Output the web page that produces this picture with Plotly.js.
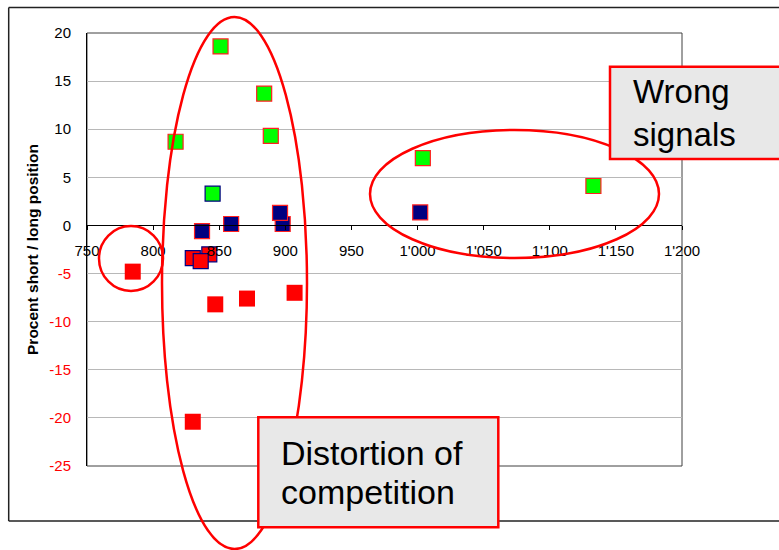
<!DOCTYPE html>
<html>
<head>
<meta charset="utf-8">
<script src="https://cdn.plot.ly/plotly-3.0.1.min.js"></script>
<style>html,body{margin:0;padding:0;background:#fff;}</style>
</head>
<body>
<div id="chart" style="width:779px;height:550px;"></div>
<script>
// ---- data ----
var greenX = [817, 851, 884, 889, 845, 1004, 1133];
var greenY = [8.7, 18.6, 13.7, 9.3, 3.3, 7.0, 4.1];
var greenEdge = ['red', 'red', 'red', 'red', 'navy', 'red', 'red'];

var navyX = [837, 859, 898, 896, 1002];
var navyY = [-0.6, 0.15, 0.15, 1.3, 1.35];

var redNavyX = [842.5, 830, 836];
var redNavyY = [-3.0, -3.4, -3.7];

var redX = [784.6, 847, 871, 907, 830];
var redY = [-4.8, -8.2, -7.6, -7.0, -20.4];

var xTickVals = [750, 800, 850, 900, 950, 1000, 1050, 1100, 1150, 1200];
var xTickText = ['750', '800', '850', '900', '950', "1'000", "1'050", "1'100", "1'150", "1'200"];
var yTickVals = [20, 15, 10, 5, 0, -5, -10, -15, -20, -25];

var yTitle = 'Procent short / long position';
var label1 = ['Wrong', 'signals'];
var label2 = ['Distortion of', 'competition'];

// ---- layout helpers (pixel -> paper) ----
var W = 779, H = 550;
var L = 87, R = 682, T = 33, B = 466;
function px(x) { return (x - L) / (R - L); }
function py(y) { return (B - y) / (B - T); }
var FONT = '"Liberation Sans", Arial, Helvetica, sans-serif';
var colMap = {red: '#FF2020', navy: '#000080'};

var yTickText = yTickVals.map(function (v) {
  return v < 0 ? '<span style="color:#FF0000">' + v + '</span>' : String(v);
});

var traces = [
  {x: redX, y: redY, type: 'scatter', mode: 'markers',
   marker: {symbol: 'square', size: 16, color: '#FF0000', line: {width: 0}}},
  {x: redNavyX, y: redNavyY, type: 'scatter', mode: 'markers',
   marker: {symbol: 'square', size: 15, color: '#FF0000', line: {width: 1.2, color: '#000080'}}},
  {x: navyX, y: navyY, type: 'scatter', mode: 'markers',
   marker: {symbol: 'square', size: 15, color: '#000080', line: {width: 1.2, color: '#FF2020'}}},
  {x: greenX, y: greenY, type: 'scatter', mode: 'markers',
   marker: {symbol: 'square', size: 15, color: '#00FF00',
            line: {width: 1.2, color: greenEdge.map(function (c) { return colMap[c]; })}}}
];

function ell(x0, y0, x1, y1) {
  return {type: 'circle', xref: 'paper', yref: 'paper',
          x0: px(x0), x1: px(x1), y0: py(y1), y1: py(y0),
          line: {color: '#FF0000', width: 2.5}, fillcolor: 'rgba(0,0,0,0)'};
}
function box(x0, y0, x1, y1) {
  return {type: 'rect', xref: 'paper', yref: 'paper',
          x0: px(x0), x1: px(x1), y0: py(y1), y1: py(y0),
          line: {color: '#FF0000', width: 2.5}, fillcolor: '#E8E8E8'};
}
function hline(x0, x1, y) {
  return {type: 'line', xref: 'paper', yref: 'paper', x0: px(x0), x1: px(x1), y0: py(y), y1: py(y),
          line: {color: '#222222', width: 1.5}};
}
function vline(x, y0, y1) {
  return {type: 'line', xref: 'paper', yref: 'paper', x0: px(x), x1: px(x), y0: py(y0), y1: py(y1),
          line: {color: '#222222', width: 1.5}};
}

var shapes = [
  {type: 'rect', xref: 'paper', yref: 'paper', x0: 0, x1: 1, y0: 0, y1: 1,
   line: {color: '#404040', width: 1}, layer: 'below'},
  hline(8.7, 800, 7.5), vline(8.7, 7.5, 521), hline(8.7, 800, 521),
  ell(99, 226, 163, 291),
  ell(162, 17, 307, 549),
  ell(370, 130, 659, 258),
  box(610, 66.7, 800, 159),
  box(258.3, 417.3, 498.3, 527.3)
];

function txt(t, x, y, size) {
  return {text: t, xref: 'paper', yref: 'paper', x: px(x), y: py(y),
          xanchor: 'left', yanchor: 'middle', showarrow: false,
          font: {family: FONT, size: size, color: '#000000'}};
}
var annotations = [
  txt(label1[0], 631, 103.3 - 0.35 * 33, 33),
  txt(label1[1], 631, 145.7 - 0.35 * 33, 33),
  txt(label2[0], 279, 465 - 0.35 * 34, 34),
  txt(label2[1], 279, 504.3 - 0.35 * 34, 34)
];

var layout = {
  width: W, height: H, autosize: false,
  margin: {l: L, r: W - R, t: T, b: H - B, pad: 0},
  paper_bgcolor: '#FFFFFF', plot_bgcolor: '#FFFFFF',
  showlegend: false,
  font: {family: FONT, size: 15, color: '#000000'},
  xaxis: {
    range: [750, 1200], anchor: 'free', position: 25 / 45,
    tickvals: xTickVals, ticktext: xTickText,
    showline: true, linecolor: '#000000', linewidth: 1,
    ticks: 'outside', ticklen: 4, tickcolor: '#000000', tickwidth: 1,
    ticklabelstandoff: 8,
    showgrid: false, zeroline: false,
    tickfont: {family: FONT, size: 15, color: '#000000'}
  },
  yaxis: {
    range: [-25, 20], tickvals: yTickVals, ticktext: yTickText,
    showline: true, linecolor: '#000000', linewidth: 1,
    ticks: 'outside', ticklen: 12, tickcolor: 'rgba(0,0,0,0)',
    showgrid: true, gridcolor: '#B8B8B8', gridwidth: 1.2,
    zeroline: false,
    tickfont: {family: FONT, size: 15, color: '#000000'},
    title: {text: yTitle, standoff: 6,
            font: {family: FONT, size: 15.5, color: '#000000', weight: 'bold'}}
  },
  shapes: shapes,
  annotations: annotations
};

Plotly.newPlot('chart', traces, layout, {displayModeBar: false, staticPlot: true});
</script>
</body>
</html>
